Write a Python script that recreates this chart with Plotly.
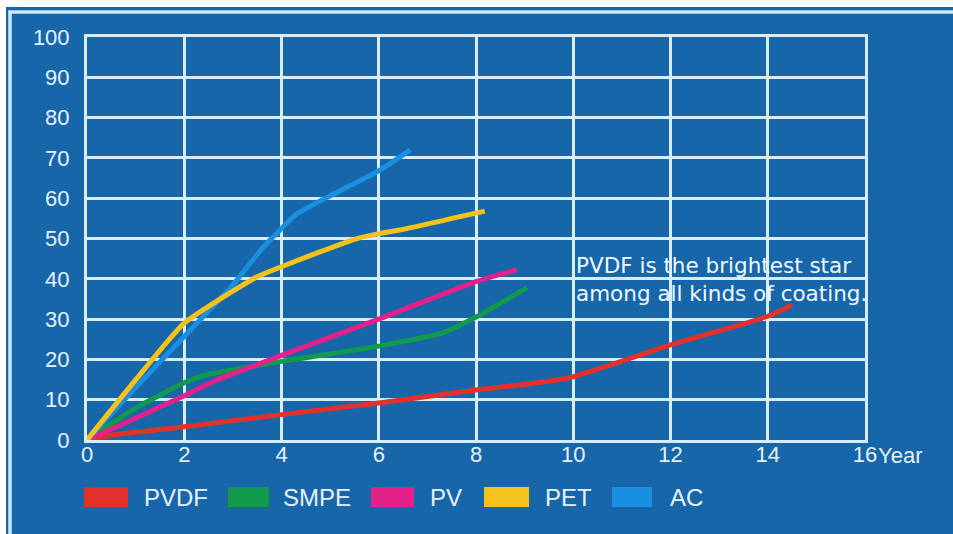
import plotly.graph_objects as go

# Coating durability curves (value vs. years)
series_names = ["PVDF", "SMPE", "PV", "PET", "AC"]
series_colors = ["#e2302a", "#109a4a", "#e4208a", "#f5c21a", "#1a8fe2"]

pvdf_years = [0, 0.5, 2, 4, 6, 8, 9.9, 12, 14, 14.5]
pvdf_vals = [0, 1.2, 3.3, 6.3, 9.2, 12.4, 15.4, 23.6, 30.7, 33.5]

smpe_years = [0, 1, 2, 2.4, 4, 6, 7.3, 8, 9.05]
smpe_vals = [0, 7.9, 14.2, 16.0, 19.5, 23.3, 26.5, 30.5, 37.8]

pv_years = [0, 1, 2, 2.6, 4, 6, 8, 8.84]
pv_vals = [0, 5.4, 11.0, 14.5, 21.0, 30.0, 39.3, 42.3]

pet_years = [0, 1, 2, 3.5, 4, 5.5, 6, 6.43, 8.18]
pet_vals = [0, 14.9, 29.0, 40.5, 43.0, 49.8, 51.2, 52.1, 56.8]

ac_years = [0, 1, 2, 3, 3.6, 4, 4.3, 5, 6, 6.65]
ac_vals = [0, 13.0, 25.7, 38.5, 47.5, 52.5, 56.0, 60.6, 66.8, 72.0]

x_ticks = [0, 2, 4, 6, 8, 10, 12, 14, 16]
y_ticks = [0, 10, 20, 30, 40, 50, 60, 70, 80, 90, 100]

note_lines = ["PVDF is the brightest star", "among all kinds of coating."]

BG = "#1666a9"
GRID = "#d8edfc"
TEXT = "#e6f2fb"

W, H = 953, 534
L, R, T, B = 87, 88, 37, 94
PW, PH = W - L - R, H - T - B


def px_x(px):
    return (px - L) / PW


def px_y(py):
    return (H - B - py) / PH


fig = go.Figure()

series = {
    "PVDF": (pvdf_years, pvdf_vals),
    "SMPE": (smpe_years, smpe_vals),
    "PV": (pv_years, pv_vals),
    "AC": (ac_years, ac_vals),
    "PET": (pet_years, pet_vals),
}
color_of = dict(zip(series_names, series_colors))

for name in ["PVDF", "SMPE", "PV", "AC", "PET"]:
    xs, ys = series[name]
    fig.add_trace(go.Scatter(
        x=xs, y=ys, mode="lines", name=name,
        line=dict(color=color_of[name], width=5, shape="spline", smoothing=0.5),
        showlegend=False, hoverinfo="skip",
    ))

tick_font = dict(family="Liberation Sans, Arial, sans-serif", size=22, color=TEXT)

fig.update_xaxes(
    range=[0, 16], tickvals=x_ticks, ticktext=[str(v) for v in x_ticks],
    showgrid=True, gridcolor=GRID, gridwidth=3,
    showline=True, mirror=True, linecolor=GRID, linewidth=3,
    zeroline=False, ticks="", tickfont=tick_font, ticklabelstandoff=-7,
)
fig.update_yaxes(
    range=[0, 100], tickvals=y_ticks, ticktext=[str(v) for v in y_ticks],
    showgrid=True, gridcolor=GRID, gridwidth=3,
    showline=True, mirror=True, linecolor=GRID, linewidth=3,
    zeroline=False, ticks="", tickfont=tick_font, ticklabelstandoff=10,
)

shapes = [
    # white page margins along the top and left edges
    dict(type="rect", xref="paper", yref="paper", x0=px_x(0), x1=px_x(W),
         y0=px_y(0), y1=px_y(7), fillcolor="white", line_width=0),
    dict(type="rect", xref="paper", yref="paper", x0=px_x(0), x1=px_x(6),
         y0=px_y(0), y1=px_y(H), fillcolor="white", line_width=0),
    # light frame lines
    dict(type="line", xref="paper", yref="paper", x0=px_x(8.5), x1=px_x(W),
         y0=px_y(12), y1=px_y(12), line=dict(color="#cfe9fb", width=3.5)),
    dict(type="line", xref="paper", yref="paper", x0=px_x(10), x1=px_x(10),
         y0=px_y(10.5), y1=px_y(H), line=dict(color="#cfe9fb", width=3.5)),
]

annotations = [
    dict(text="Year", xref="paper", yref="paper", x=px_x(876), y=px_y(455),
         xanchor="left", yanchor="middle", showarrow=False, font=tick_font),
]

note_font = dict(family="DejaVu Sans, sans-serif", size=21.5, color="#f2f8fd")
for text, yv in zip(note_lines, [43.4, 36.3]):
    annotations.append(dict(text=text, x=10.02, y=yv, xref="x", yref="y",
                            xanchor="left", yanchor="middle", showarrow=False,
                            font=note_font))

# Legend: colour swatches with labels beneath the plot
legend_swatch_px = [(84, 128), (228, 269), (371, 414), (484, 529), (612, 652)]
legend_label_px = [144, 283, 430, 545, 670]
legend_font = dict(family="Liberation Sans, Arial, sans-serif", size=24, color=TEXT)
for name, color, (sx0, sx1), lx in zip(series_names, series_colors,
                                        legend_swatch_px, legend_label_px):
    shapes.append(dict(type="rect", xref="paper", yref="paper",
                       x0=px_x(sx0), x1=px_x(sx1), y0=px_y(507), y1=px_y(487),
                       fillcolor=color, line_width=0))
    annotations.append(dict(text=name, xref="paper", yref="paper",
                            x=px_x(lx - 2), y=px_y(497), xanchor="left",
                            yanchor="middle", showarrow=False, font=legend_font))

fig.update_layout(
    width=W, height=H,
    margin=dict(l=L, r=R, t=T, b=B),
    paper_bgcolor=BG, plot_bgcolor=BG,
    shapes=shapes, annotations=annotations,
    showlegend=False,
)

fig.write_html("out.html")
